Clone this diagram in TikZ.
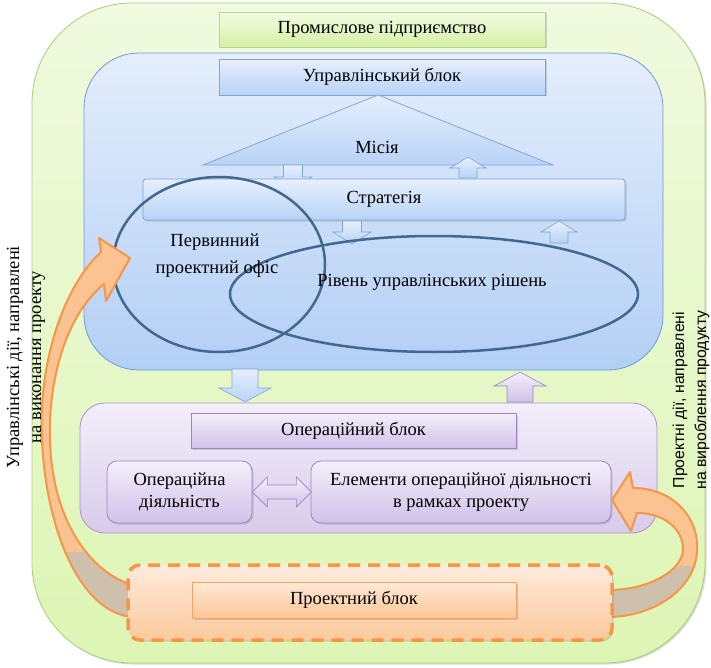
\documentclass[tikz,border=0pt]{standalone}
\usepackage{fontspec}
\setmainfont{Liberation Serif}
\setsansfont{Liberation Sans}
\usetikzlibrary{shapes.geometric,shadows}

\definecolor{plantfillA}{HTML}{F0FADF}
\definecolor{plantfillB}{HTML}{DDF5B4}
\definecolor{plantline}{HTML}{A8CF78}
\definecolor{mgmtfillA}{HTML}{E4EEFC}
\definecolor{mgmtfillB}{HTML}{B3CFF5}
\definecolor{mgmtline}{HTML}{6E9BD4}
\definecolor{bluefillA}{HTML}{E6EFFC}
\definecolor{bluefillB}{HTML}{B9D3F6}
\definecolor{blueline}{HTML}{7FA5D8}
\definecolor{greenfillA}{HTML}{F3FCE3}
\definecolor{greenfillB}{HTML}{D5EFA4}
\definecolor{greenline}{HTML}{B3D88A}
\definecolor{opfillA}{HTML}{F3EFF9}
\definecolor{opfillB}{HTML}{D8CBEB}
\definecolor{opline}{HTML}{A894CB}
\definecolor{purplefillA}{HTML}{F4EFFA}
\definecolor{purplefillB}{HTML}{D1C1E9}
\definecolor{purpleline}{HTML}{9C86C2}
\definecolor{projline}{HTML}{F79646}
\definecolor{projfillA}{HTML}{FDEBDC}
\definecolor{projfillB}{HTML}{FBC99C}
\definecolor{projboxA}{HTML}{FEE9D8}
\definecolor{projboxB}{HTML}{FBC695}
\definecolor{projboxline}{HTML}{F0A466}
\definecolor{ringline}{HTML}{41698F}
\definecolor{bandfill}{HTML}{FBC391}
\definecolor{bandback}{HTML}{CFC0AE}

\tikzset{
  shadowed/.style={drop shadow={opacity=0.3,shadow xshift=1.5pt,shadow yshift=-1.5pt}},
  box/.style={shadowed,inner sep=2pt,line width=0.8pt},
  greenbox/.style={box,draw=greenline,top color=greenfillA,bottom color=greenfillB},
  bluebox/.style={box,draw=blueline,top color=bluefillA,bottom color=bluefillB},
  purplebox/.style={box,draw=purpleline,top color=purplefillA,bottom color=purplefillB},
  projbox/.style={box,draw=projboxline,top color=projboxA,bottom color=projboxB},
  bluearr/.style={draw=blueline,line width=0.6pt,top color=bluefillA,bottom color=bluefillB},
  purplearr/.style={draw=purpleline,line width=0.6pt,top color=purplefillA,bottom color=purplefillB},
  ring/.style={draw=ringline,line width=2.5pt,ellipse,inner sep=0pt},
  band/.style={draw=projline,line width=2pt,line join=round},
}

% block arrow: style, x, tail y, tip y, half shaft, head length
\newcommand{\arrdown}[6]{%
  \draw[#1] ({#2-#5},#3) -- ({#2+#5},#3) -- ({#2+#5},{#4-#6}) -- ({#2+2*#5},{#4-#6})
    -- (#2,#4) -- ({#2-2*#5},{#4-#6}) -- ({#2-#5},{#4-#6}) -- cycle;}
\newcommand{\arrup}[6]{%
  \draw[#1] ({#2-#5},#3) -- ({#2+#5},#3) -- ({#2+#5},{#4+#6}) -- ({#2+2*#5},{#4+#6})
    -- (#2,#4) -- ({#2-2*#5},{#4+#6}) -- ({#2-#5},{#4+#6}) -- cycle;}

\begin{document}
\begin{tikzpicture}[x=1pt,y=-1pt,every node/.style={font=\fontsize{18.5}{22}\selectfont}]
\fill[white] (0,0) rectangle (711,668);
\useasboundingbox (0,0) rectangle (711,668);

% containers
\node[draw=plantline,line width=0.8pt,top color=plantfillA,bottom color=plantfillB,
  rounded corners=100pt,minimum width=673pt,minimum height=660pt,shadowed] (plant) at (368.5,333) {};
\node[draw=mgmtline,line width=0.8pt,top color=mgmtfillA,bottom color=mgmtfillB,
  rounded corners=55pt,minimum width=579pt,minimum height=317pt] (mgmtarea) at (373.5,211.5) {};
\node[draw=opline,line width=0.8pt,top color=opfillA,bottom color=opfillB,
  rounded corners=25pt,minimum width=577pt,minimum height=130pt] (oparea) at (368.5,468) {};

\node[greenbox,minimum width=326pt,minimum height=35pt] (firm) at (382,29.5) {Промислове підприємство};
\node[bluebox,minimum width=326pt,minimum height=36pt] (mgmt) at (382,77) {Управлінський блок};

% mission triangle
\coordinate (apex) at (378,95);
\coordinate (baseL) at (203,165);
\coordinate (baseR) at (553,165);
\draw[bluearr,line width=0.8pt] (apex) -- (baseR) -- (baseL) -- cycle;
\node (mission) at (377,147) {Місія};

\arrdown{bluearr}{293}{165}{189}{9.5}{12}
\arrup{bluearr}{468}{178}{157}{9}{11}

\node[bluebox,rounded corners=3pt,minimum width=482pt,minimum height=41pt] (strategy) at (384,199.5) {Стратегія};

\arrdown{bluearr}{352}{221}{244}{9.5}{12}
\arrup{bluearr}{559}{243}{221}{9}{11}

\node[ring,minimum width=212pt,minimum height=175pt] (office) at (219,264.5) {};
\node[ring,minimum width=408pt,minimum height=116pt] (decisions) at (434,294) {};
\node (officeA) at (215,242) {Первинний};
\node (officeB) at (217,269) {проектний офіс};
\node (decisionstxt) at (432,282) {Рівень управлінських рішень};

\arrdown{bluearr}{245}{369}{402}{13}{14}
\arrup{purplearr}{520}{402}{372}{13}{14}

\node[purplebox,minimum width=325pt,minimum height=35pt] (opblock) at (353.5,430.5) {Операційний блок};
\node[purplebox,rounded corners=10pt,minimum width=145pt,minimum height=62pt,align=center] (opact) at (179.5,492)
  {Операційна\\діяльність};
\node[purplebox,rounded corners=10pt,minimum width=300pt,minimum height=62pt,align=center] (elems) at (461,492)
  {Елементи операційної діяльності\\в рамках проекту};
\draw[purplearr] (opact.east) -- ++(15,-15) -- ++(0,8) -- ++(29,0) -- ++(0,-8) -- ++(15,15)
  -- ++(-15,15) -- ++(0,-8) -- ++(-29,0) -- ++(0,8) -- cycle;

% curved arrows from the project block
\def\leftband{(101,252) .. controls (60,290) and (38,370) .. (42,440)
  .. controls (46,530) and (80,612) .. (132,617) -- (132,585)
  .. controls (90,572) and (52,520) .. (50,440)
  .. controls (48,380) and (66,315) .. (104,284) -- (106,301) -- (130,258) -- (99,238) -- cycle}
\fill[bandfill] \leftband;
\begin{scope}
  \clip \leftband;
  \fill[bandback] (0,552) rectangle (140,640);
\end{scope}
\draw[band] \leftband;

\def\rightband{(633,488) .. controls (675,488) and (700,520) .. (697,552)
  .. controls (694,592) and (650,617) .. (608,617) -- (608,590)
  .. controls (650,590) and (683,570) .. (683,549)
  .. controls (683,530) and (665,513) .. (637,513) -- (631,531) -- (612,500) -- (630,472) -- cycle}
\fill[bandfill] \rightband;
\begin{scope}
  \clip \rightband;
  \fill[bandback] (600,566) rectangle (711,640);
\end{scope}
\draw[band] \rightband;

% project block
\node[draw=projline,line width=3.5pt,dash pattern=on 12pt off 8pt,top color=projfillA,bottom color=projfillB,
  rounded corners=12pt,minimum width=484pt,minimum height=75pt,shadowed] (projarea) at (370,602.5) {};
\node[projbox,minimum width=324pt,minimum height=36pt] (proj) at (354,600) {Проектний блок};

% side captions
\node[rotate=90,align=center,font=\fontsize{18.5}{22}\selectfont] (mgmtacts) at (26,357)
  {Управлінські дії, направлені\\на виконання проекту};
\node[rotate=90,align=center,font=\sffamily\fontsize{15.8}{22}\selectfont] (projacts) at (691,400)
  {Проектні дії, направлені\\на вироблення продукту};
\end{tikzpicture}
\end{document}
